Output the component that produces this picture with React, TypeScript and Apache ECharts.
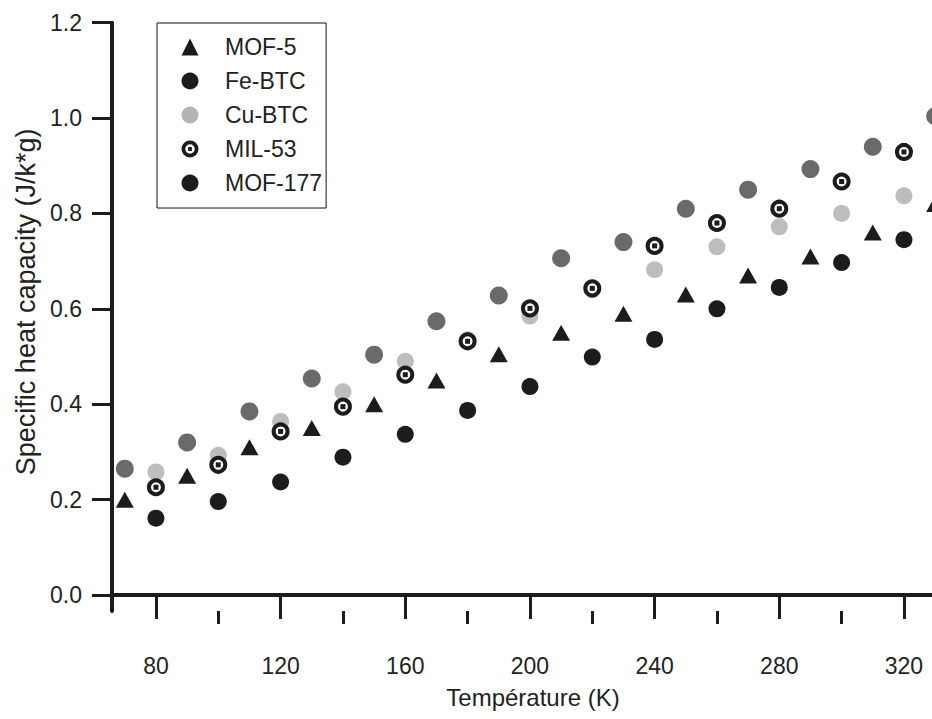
import React, { useEffect, useRef } from 'react';
import * as echarts from 'echarts';

// Temperatures (K)
const tempsOdd = [70, 90, 110, 130, 150, 170, 190, 210, 230, 250, 270, 290, 310, 330];
const tempsEven = [80, 100, 120, 140, 160, 180, 200, 220, 240, 260, 280, 300, 320];

// Specific heat capacity (J/k*g)
const mof5 = [0.2, 0.25, 0.31, 0.35, 0.4, 0.45, 0.505, 0.55, 0.59, 0.63, 0.67, 0.71, 0.76, 0.82];
const feBtc = [0.265, 0.32, 0.385, 0.454, 0.504, 0.574, 0.628, 0.706, 0.74, 0.81, 0.85, 0.893, 0.94, 1.004];
const cuBtc = [0.258, 0.293, 0.364, 0.426, 0.49, 0.535, 0.585, 0.64, 0.682, 0.73, 0.772, 0.8, 0.837];
const mil53 = [0.226, 0.273, 0.343, 0.395, 0.462, 0.532, 0.601, 0.643, 0.732, 0.78, 0.81, 0.867, 0.929];
const mof177 = [0.161, 0.196, 0.237, 0.289, 0.337, 0.387, 0.437, 0.499, 0.536, 0.6, 0.645, 0.697, 0.745];

const xMajorTicks = [80, 120, 160, 200, 240, 280, 320];
const xMinorTicks = [100, 140, 180, 220, 260, 300];
const yTicks = [0, 0.2, 0.4, 0.6, 0.8, 1.0, 1.2];
const legendNames = ['MOF-5', 'Fe-BTC', 'Cu-BTC', 'MIL-53', 'MOF-177'];

const zip = (xs: number[], ys: number[]) => ys.map((y, i) => [xs[i], y]);

const FONT = "'Liberation Sans', Arial, Helvetica, sans-serif";
const INK = '#1c1c1c';
const TXT = '#222';

const RING_ICON =
  'path://M0,-9A9,9,0,1,1,0,9A9,9,0,1,1,0,-9ZM0,-5A5,5,0,1,0,0,5A5,5,0,1,0,0,-5ZM-2,-2L2,-2L2,2L-2,2Z';

export default function App() {
  const ref = useRef<HTMLDivElement>(null);

  useEffect(() => {
    if (!ref.current) return;
    const chart = echarts.init(ref.current, undefined, { renderer: 'svg' });
    const axisCommon = {
      type: 'value' as const,
      splitLine: { show: false },
    };
    const scatterCommon = { type: 'scatter' as const, clip: false };
    chart.setOption({
      animation: false,
      backgroundColor: '#fff',
      textStyle: { fontFamily: FONT },
      grid: {
        left: 112,
        top: 22.7,
        right: 0,
        bottom: 108,
        containLabel: false,
        outerBoundsMode: 'none',
      },
      legend: {
        orient: 'vertical',
        left: 157,
        top: 23,
        itemWidth: 17,
        itemHeight: 17,
        itemGap: 11,
        symbolKeepAspect: true,
        padding: [12.5, 4, 13.5, 24.5],
        borderColor: '#111',
        borderWidth: 1,
        backgroundColor: '#fff',
        textStyle: { fontSize: 23, color: TXT, fontFamily: FONT, padding: [0, 0, 0, 21.5] },
        data: [
          { name: legendNames[0], icon: 'triangle', itemStyle: { color: INK } },
          { name: legendNames[1], icon: 'circle', itemStyle: { color: INK } },
          { name: legendNames[2], icon: 'circle', itemStyle: { color: '#b4b4b4' } },
          { name: legendNames[3], icon: RING_ICON, itemStyle: { color: INK, borderWidth: 0 } },
          { name: legendNames[4], icon: 'circle', itemStyle: { color: INK } },
        ],
      },
      xAxis: [
        {
          ...axisCommon,
          min: 65.9,
          max: 329,
          name: 'Température (K)',
          nameLocation: 'middle',
          nameGap: 74,
          nameTextStyle: { fontSize: 24, color: TXT, fontFamily: FONT, padding: [0, 0, 0, 22] },
          axisLine: { show: true, lineStyle: { color: INK, width: 4 } },
          axisTick: {
            show: true,
            inside: false,
            length: 24,
            customValues: xMajorTicks,
            lineStyle: { color: INK, width: 3 },
          },
          axisLabel: {
            show: true,
            customValues: xMajorTicks,
            margin: 43,
            fontSize: 23,
            color: TXT,
            fontFamily: FONT,
          },
        },
        {
          ...axisCommon,
          min: 65.9,
          max: 329,
          position: 'bottom',
          axisLine: { show: false },
          axisTick: {
            show: true,
            inside: false,
            length: 13,
            customValues: xMinorTicks,
            lineStyle: { color: INK, width: 3 },
          },
          axisLabel: { show: false },
        },
      ],
      yAxis: {
        ...axisCommon,
        min: -0.0335,
        max: 1.2,
        name: 'Specific heat capacity (J/k*g)',
        nameLocation: 'middle',
        nameGap: 72,
        nameTextStyle: { fontSize: 27, color: TXT, fontFamily: FONT, padding: [0, 0, 0, 30] },
        axisLine: { show: true, lineStyle: { color: INK, width: 4 } },
        axisTick: {
          show: true,
          inside: false,
          length: 20,
          customValues: yTicks,
          lineStyle: { color: INK, width: 3 },
        },
        axisLabel: {
          show: true,
          customValues: yTicks,
          margin: 30,
          fontSize: 23,
          color: TXT,
          fontFamily: FONT,
          formatter: (v: number) => v.toFixed(1),
        },
      },
      series: [
        {
          ...scatterCommon,
          name: 'Cu-BTC',
          data: zip(tempsEven, cuBtc),
          symbol: 'circle',
          symbolSize: 17,
          itemStyle: { color: '#bdbdbd', opacity: 1 },
        },
        {
          ...scatterCommon,
          name: 'Fe-BTC',
          data: zip(tempsOdd, feBtc),
          symbol: 'circle',
          symbolSize: 18,
          itemStyle: { color: '#6a6a6a', opacity: 1 },
        },
        {
          ...scatterCommon,
          name: 'MOF-5',
          data: zip(tempsOdd, mof5),
          symbol: 'triangle',
          symbolSize: [18, 16],
          itemStyle: { color: INK, opacity: 1 },
        },
        {
          ...scatterCommon,
          name: 'MOF-177',
          data: zip(tempsEven, mof177),
          symbol: 'circle',
          symbolSize: 17,
          itemStyle: { color: INK, opacity: 1 },
        },
        {
          ...scatterCommon,
          name: 'MIL-53',
          data: zip(tempsEven, mil53),
          symbol: 'circle',
          symbolSize: 14,
          itemStyle: { color: '#fff', borderColor: INK, borderWidth: 4, opacity: 1 },
        },
        {
          ...scatterCommon,
          name: 'MIL-53',
          data: zip(tempsEven, mil53),
          symbol: 'rect',
          symbolSize: 5,
          itemStyle: { color: INK, opacity: 1 },
        },
      ],
    });
    return () => chart.dispose();
  }, []);

  return (
    <div
      ref={ref}
      style={{ position: 'fixed', left: 0, top: 0, width: 932, height: 719, background: '#fff' }}
    />
  );
}
